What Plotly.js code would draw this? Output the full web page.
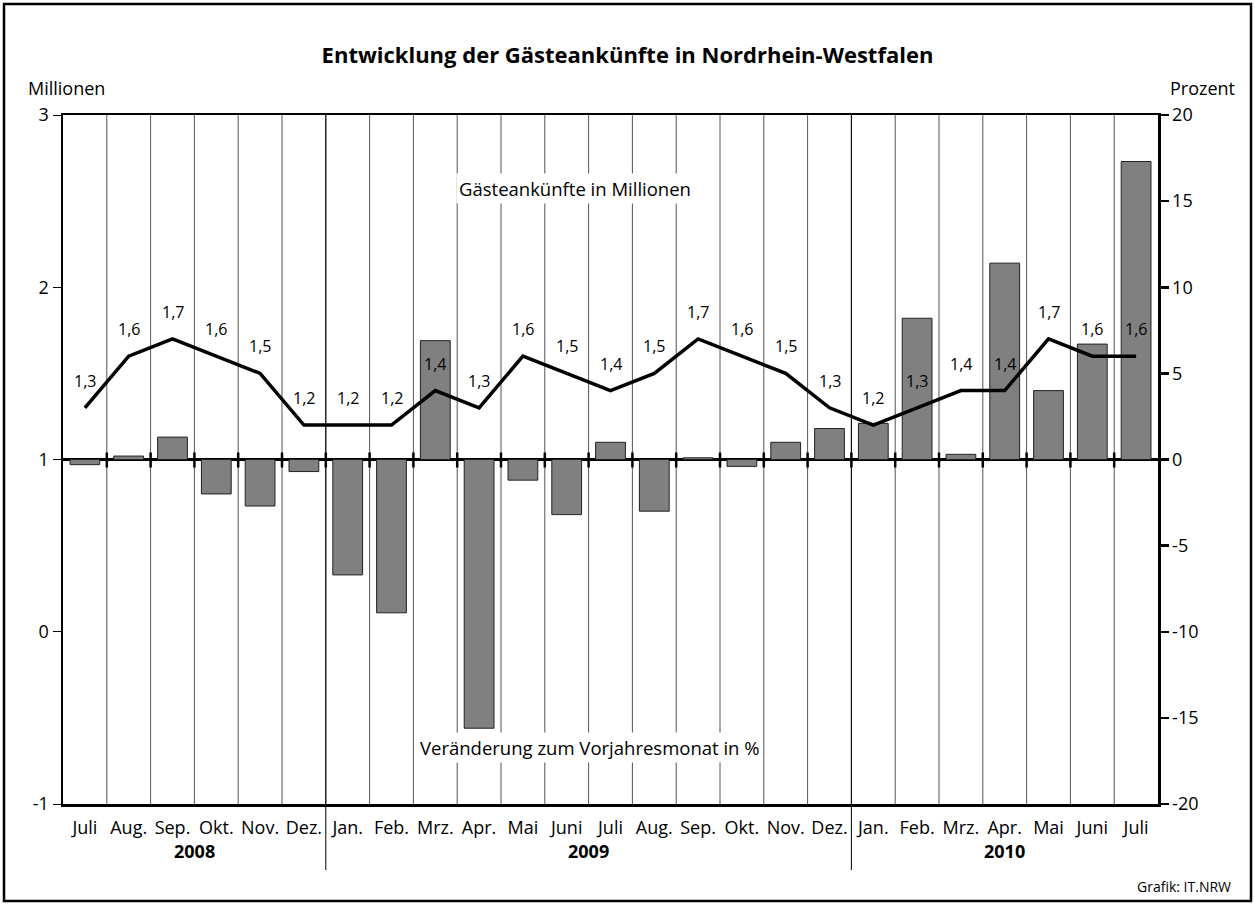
<!DOCTYPE html>
<html>
<head>
<meta charset="utf-8">
<script src="https://cdn.plot.ly/plotly-3.0.1.min.js"></script>
<style>
html,body{margin:0;padding:0;background:#fff;}
#chart{width:1255px;height:904px;}
</style>
</head>
<body>
<div id="chart"></div>
<script>
// ---- data ----
const months = ["Juli","Aug.","Sep.","Okt.","Nov.","Dez.",
  "Jan.","Feb.","Mrz.","Apr.","Mai","Juni","Juli","Aug.","Sep.","Okt.","Nov.","Dez.",
  "Jan.","Feb.","Mrz.","Apr.","Mai","Juni","Juli"];
const years = ["2008","2009","2010"];
const yearMonthCounts = [6, 12, 7];
const arrivals = [1.3,1.6,1.7,1.6,1.5,1.2, 1.2,1.2,1.4,1.3,1.6,1.5,1.4,1.5,1.7,1.6,1.5,1.3, 1.2,1.3,1.4,1.4,1.7,1.6,1.6];
const changePct = [-0.3,0.2,1.3,-2.0,-2.7,-0.7, -6.7,-8.9,6.9,-15.6,-1.2,-3.2,1.0,-3.0,0.1,-0.4,1.0,1.8, 2.1,8.2,0.3,11.4,4.0,6.7,17.3];
const leftTicks = [-1,0,1,2,3];
const leftTickText = ["-1","0","1","2","3"];
const rightTicks = [-20,-15,-10,-5,0,5,10,15,20];
const rightTickText = ["-20","-15","-10","-5","0","5","10","15","20"];

// ---- layout helpers ----
const W = 1255, H = 904;
const M = {l:63, r:97, t:115, b:100};
const PW = W - M.l - M.r, PH = H - M.t - M.b;
const px2x = p => (p - M.l) / PW;
const py2y = p => 1 - (p - M.t) / PH;
const FONT = "Open Sans, Noto Sans, sans-serif";

const xs = months.map((_, i) => i);
const n = months.length;

const bars = {
  type: 'bar', x: xs, y: changePct, yaxis: 'y',
  marker: {color: '#808080', line: {color: '#222', width: 1}},
  width: 0.68, hoverinfo: 'skip'
};
const line = {
  type: 'scatter', mode: 'lines', x: xs, y: arrivals, yaxis: 'y2',
  line: {color: '#000', width: 3.5}, hoverinfo: 'skip'
};

const shapes = [];
for (let k = 1; k < n; k++) {
  shapes.push({type:'line', xref:'x', yref:'paper', x0:k-0.5, x1:k-0.5, y0:0, y1:1,
    line:{color:'#555', width:1}, layer:'below'});
  shapes.push({type:'line', xref:'x', yref:'y', x0:k-0.5, x1:k-0.5,
    ysizemode:'pixel', yanchor:0, y0:-8, y1:7, line:{color:'#000', width:2.5}});
}
// year dividers
let acc = 0;
yearMonthCounts.slice(0, -1).forEach(c => {
  acc += c;
  shapes.push({type:'line', xref:'x', yref:'paper', x0:acc-0.5, x1:acc-0.5,
    y0:1, y1:py2y(870), line:{color:'#000', width:1}});
});
// outer frame
shapes.push({type:'rect', xref:'paper', yref:'paper',
  x0:px2x(4), x1:px2x(1251), y0:py2y(901), y1:py2y(4),
  line:{color:'#000', width:2.5}, fillcolor:'rgba(0,0,0,0)'});

const annotations = [];
arrivals.forEach((v, i) => {
  annotations.push({x:i, y:v, xref:'x', yref:'y2', text:v.toFixed(1).replace('.', ','),
    showarrow:false, yshift:27, xanchor:'center', yanchor:'middle',
    font:{family:FONT, size:16, color:'#000'}});
});
acc = 0;
yearMonthCounts.forEach((c, j) => {
  annotations.push({x: acc + (c - 1) / 2, y: py2y(851), xref:'x', yref:'paper',
    text:'<b>' + years[j] + '</b>', showarrow:false, xanchor:'center', yanchor:'middle',
    font:{family:FONT, size:18, color:'#000'}});
  acc += c;
});
const txt = (t, px, py, xa, size) => ({x:px2x(px), y:py2y(py), xref:'paper', yref:'paper',
  text:t, showarrow:false, xanchor:xa, yanchor:'middle', font:{family:FONT, size:size, color:'#000'}});
const a1 = txt('Gästeankünfte in Millionen', 575, 188, 'center', 18.5);
a1.bgcolor = '#fff'; a1.borderpad = 2;
const a2 = txt('Veränderung zum Vorjahresmonat in %', 590, 747, 'center', 18.5);
a2.bgcolor = '#fff'; a2.borderpad = 2;
annotations.push(a1, a2);
annotations.push(txt('Millionen', 26, 88, 'left', 18));
annotations.push(txt('Prozent', 1237, 88, 'right', 18));
annotations.push(txt('Grafik: IT.NRW', 1233, 886, 'right', 14));

const layout = {
  width: W, height: H, margin: M,
  paper_bgcolor: '#fff', plot_bgcolor: '#fff',
  showlegend: false,
  font: {family: FONT, size: 18, color: '#000'},
  title: {text: '<b>Entwicklung der Gästeankünfte in Nordrhein-Westfalen</b>',
    x: 0.5, xanchor: 'center', y: 1 - 55/H, yanchor: 'middle',
    font: {family: FONT, size: 22, color: '#000'}},
  xaxis: {range: [-0.5, n - 0.5], tickvals: xs, ticktext: months, ticks: '',
    showgrid: false, zeroline: false, showline: true, mirror: true,
    linecolor: '#000', linewidth: 2.5, ticklabelstandoff: 6,
    tickfont: {family: FONT, size: 18, color: '#000'}, fixedrange: true},
  yaxis: {side: 'right', range: [-20, 20], tickvals: rightTicks, ticktext: rightTickText, ticks: 'outside',
    ticklen: 8, tickwidth: 2.5, tickcolor: '#000', showgrid: false,
    zeroline: true, zerolinecolor: '#000', zerolinewidth: 2.5,
    showline: true, linecolor: '#000', linewidth: 2.5,
    tickfont: {family: FONT, size: 18, color: '#000'}, fixedrange: true},
  yaxis2: {side: 'left', overlaying: 'y', range: [-1, 3], tickvals: leftTicks, ticktext: leftTickText, ticks: 'outside',
    ticklen: 8, tickwidth: 1, tickcolor: '#000', showgrid: false, zeroline: false,
    showline: true, linecolor: '#000', linewidth: 2.5,
    tickfont: {family: FONT, size: 18, color: '#000'}, fixedrange: true},
  shapes: shapes,
  annotations: annotations
};

Plotly.newPlot('chart', [bars, line], layout, {displayModeBar: false, staticPlot: true});
</script>
</body>
</html>
